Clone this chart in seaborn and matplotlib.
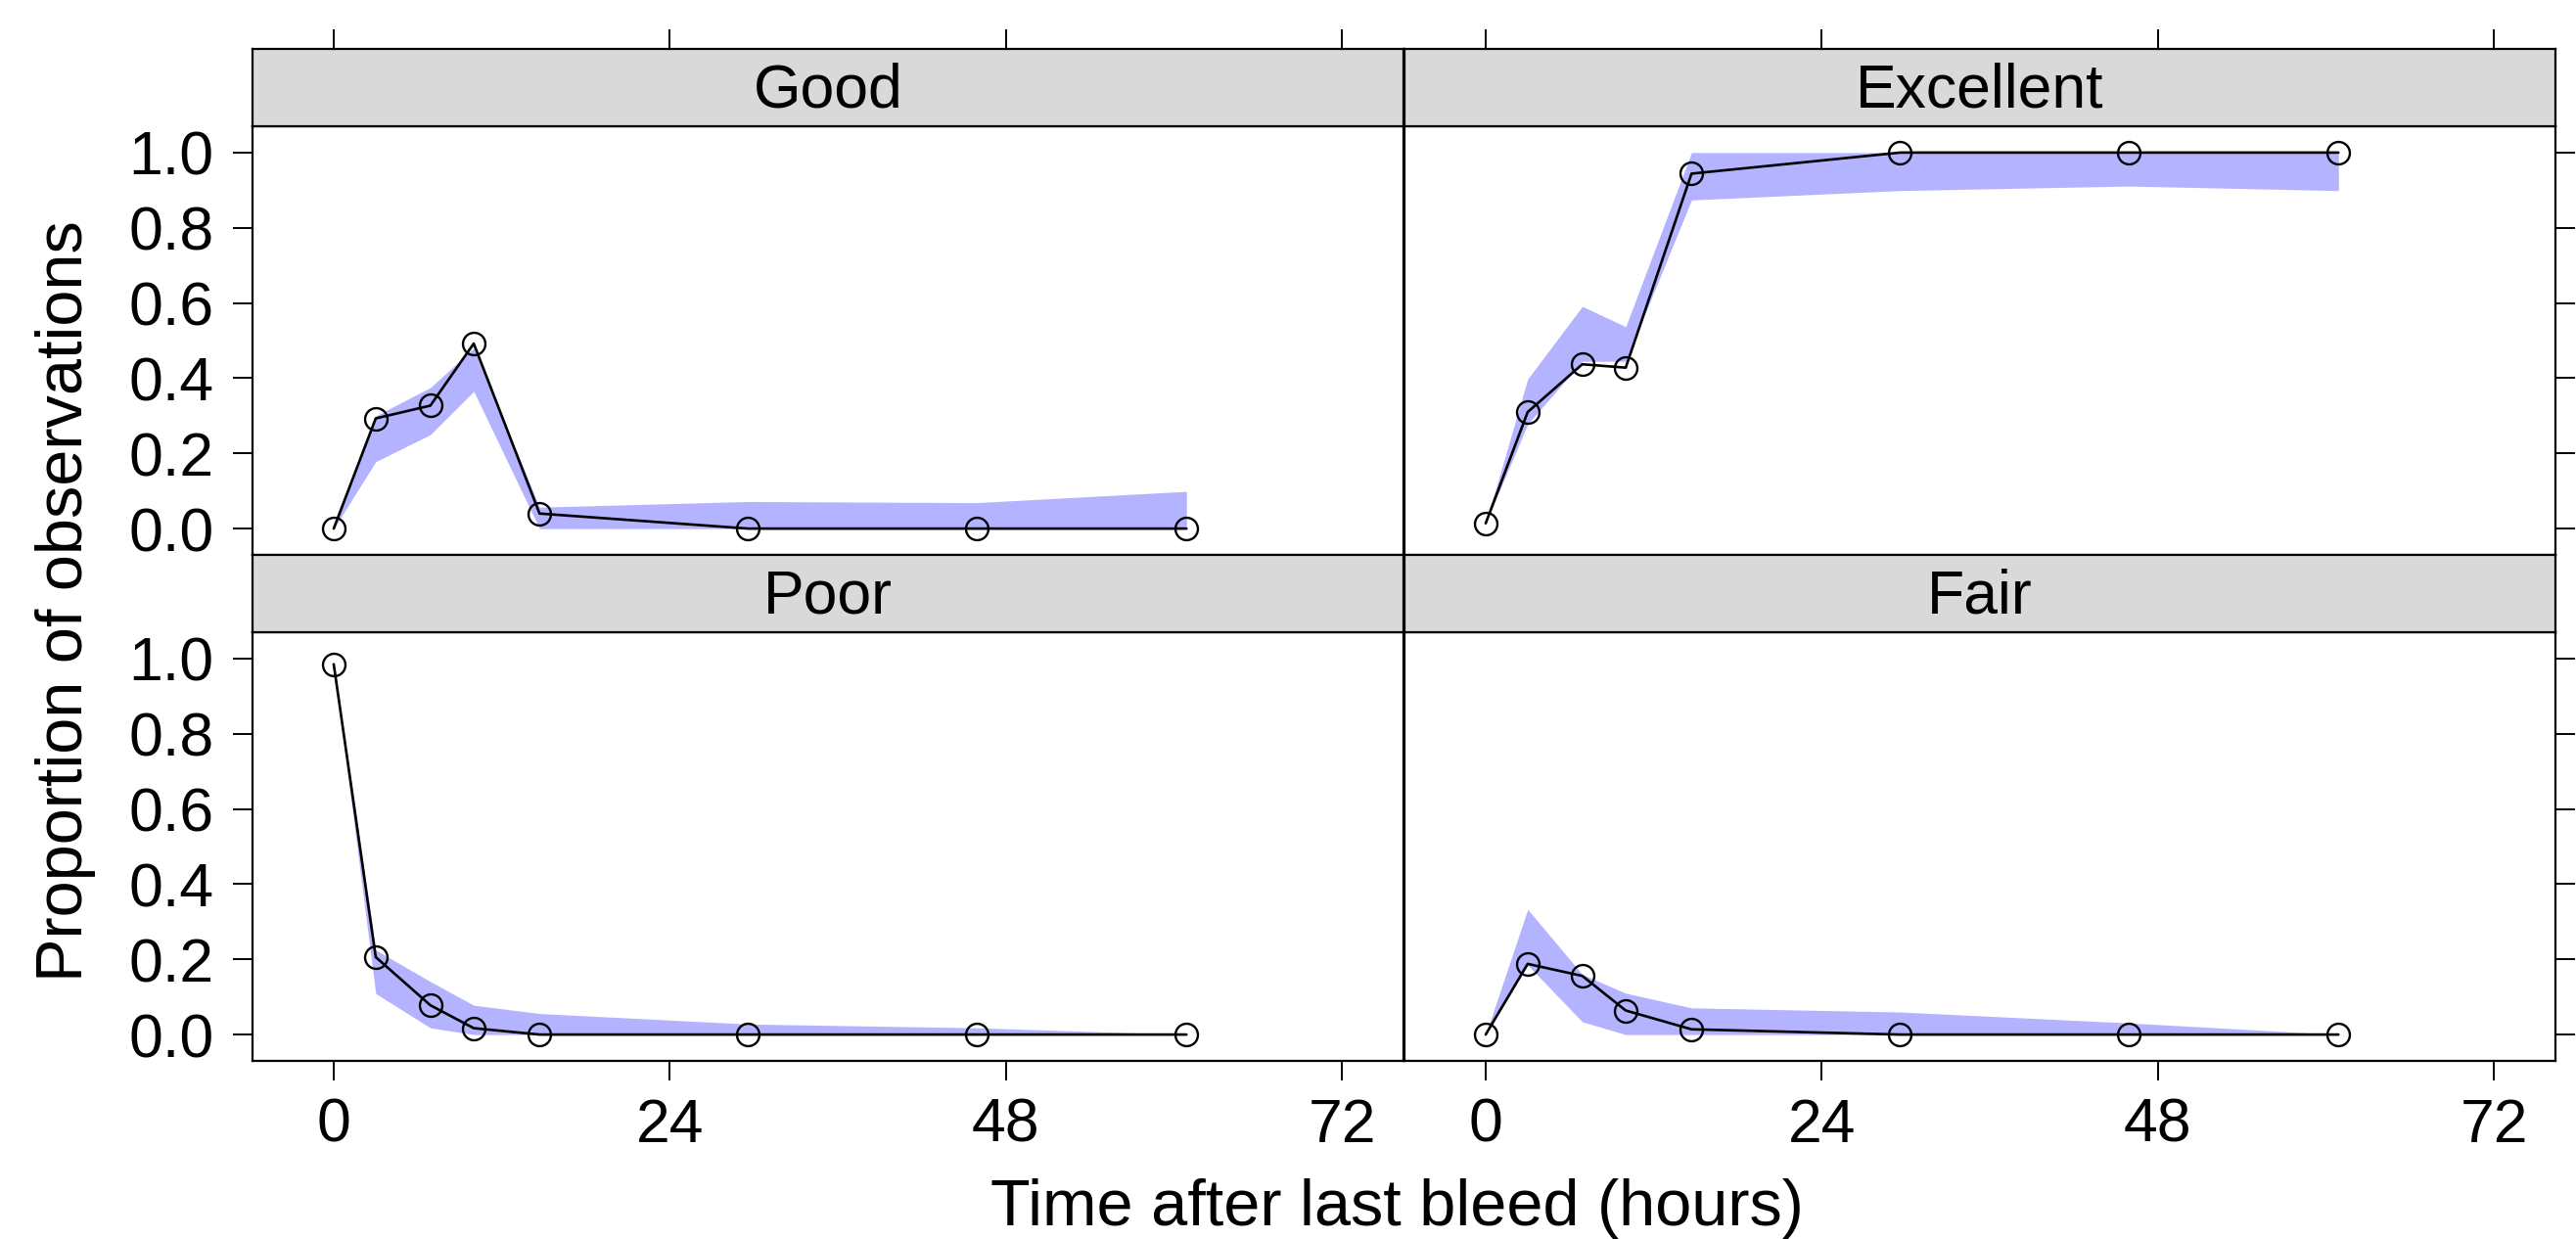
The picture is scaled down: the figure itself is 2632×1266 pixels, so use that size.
import pandas as pd
import numpy as np
import seaborn as sns
import matplotlib.pyplot as plt

# hours after last bleed (same for every panel)
hours = [0, 3, 6.9, 10, 14.7, 29.6, 45.9, 60.9]
panels = ['Good', 'Excellent', 'Poor', 'Fair']

good_obs = [0.0, 0.293, 0.327, 0.492, 0.040, 0.0, 0.0, 0.0]
good_lo = [0.0, 0.178, 0.25, 0.365, 0.0, 0.0, 0.0, 0.0]
good_hi = [0.0, 0.30, 0.375, 0.48, 0.057, 0.072, 0.069, 0.099]

exc_obs = [0.014, 0.310, 0.437, 0.428, 0.944, 1.0, 1.0, 1.0]
exc_lo = [0.014, 0.278, 0.445, 0.445, 0.874, 0.899, 0.911, 0.899]
exc_hi = [0.014, 0.398, 0.591, 0.537, 1.0, 1.0, 1.0, 1.0]

poor_obs = [0.985, 0.206, 0.078, 0.017, 0.0, 0.0, 0.0, 0.0]
poor_lo = [0.985, 0.109, 0.018, 0.0, 0.0, 0.0, 0.0, 0.0]
poor_hi = [0.985, 0.225, 0.141, 0.078, 0.056, 0.028, 0.018, 0.0]

fair_obs = [0.0, 0.188, 0.156, 0.064, 0.014, 0.0, 0.0, 0.0]
fair_lo = [0.0, 0.185, 0.034, 0.0, 0.0, 0.0, 0.0, 0.0]
fair_hi = [0.0, 0.333, 0.16, 0.110, 0.071, 0.060, 0.031, 0.0]

x_ticks = [0, 24, 48, 72]
y_ticks = [0.0, 0.2, 0.4, 0.6, 0.8, 1.0]

obs = [good_obs, exc_obs, poor_obs, fair_obs]
lo = [good_lo, exc_lo, poor_lo, fair_lo]
hi = [good_hi, exc_hi, poor_hi, fair_hi]

rows = []
for p, o, l, h in zip(panels, obs, lo, hi):
    for t, a, b, c in zip(hours, o, l, h):
        rows.append({'rating': p, 'hours': t, 'prop': a, 'lower': b, 'upper': c})
df = pd.DataFrame(rows)

sns.set_style('white')
plt.rcParams['font.family'] = ['Liberation Sans', 'DejaVu Sans']
plt.rcParams['text.color'] = 'black'
plt.rcParams['xtick.color'] = 'black'
plt.rcParams['ytick.color'] = 'black'
plt.rcParams['axes.labelcolor'] = 'black'

BAND = '#B3B3FF'
STRIP = '#D9D9D9'
LW = 1.6


def draw(data, **kw):
    ax = plt.gca()
    ax.fill_between(data['hours'], data['lower'], data['upper'], color=BAND, lw=0)
    sns.lineplot(data=data, x='hours', y='prop', color='black', lw=1.9, marker='o',
                 markersize=16.5, markerfacecolor='none', markeredgecolor='black',
                 markeredgewidth=1.7, errorbar=None, ax=ax)


g = sns.FacetGrid(df, col='rating', col_wrap=2, col_order=panels, despine=False,
                  sharex=True, sharey=True, height=4, aspect=2)
g.map_dataframe(draw)
g.set_titles('')
g.set_axis_labels('', '')
fig = g.figure
fig.set_size_inches(26.32, 12.66)

W, H = 2632, 1266
col_x = [258, 1435]
col_w = 1176
strip_top = [50, 567]
strip_h = 79
data_h = 438

for i, ax in enumerate(g.axes.flat):
    r, c = divmod(i, 2)
    x0 = col_x[c]
    top = strip_top[r] + strip_h
    ax.set_position([x0 / W, 1 - (top + data_h) / H, col_w / W, data_h / H])
    ax.set_xlim(-5.8, 76.4)
    ax.set_ylim(-0.07, 1.07)
    ax.set_xticks(x_ticks)
    ax.set_yticks(y_ticks)
    ax.set_yticklabels([f'{v:.1f}' for v in y_ticks])
    for s in ax.spines.values():
        s.set_linewidth(LW)
        s.set_color('black')
    ax.tick_params(length=14.4, width=1.4, direction='out', labelsize=45, color='black',
                   labelcolor='black',
                   bottom=(r == 1), labelbottom=(r == 1), top=False, labeltop=False,
                   left=(c == 0), labelleft=(c == 0), right=(c == 1), labelright=False)
    ax.tick_params(axis='x', pad=12)
    ax.tick_params(axis='y', pad=14)

    # lattice-style strip
    sax = fig.add_axes([x0 / W, 1 - top / H, col_w / W, strip_h / H])
    sax.set_facecolor(STRIP)
    sax.set_xlim(-5.8, 76.4)
    sax.set_yticks([])
    sax.set_xticks(x_ticks)
    sax.tick_params(axis='x', length=14.4, width=1.4, direction='out', color='black',
                    bottom=False, labelbottom=False, top=(r == 0), labeltop=False)
    for s in sax.spines.values():
        s.set_linewidth(LW)
        s.set_color('black')
    sax.text(0.5, 0.45, panels[i], transform=sax.transAxes, ha='center', va='center',
             fontsize=45, color='black')

fig.text(67 / W, 1 - 614 / H, 'Proportion of observations', rotation=90,
         ha='center', va='center', fontsize=48, color='black')
fig.text(1427 / W, 1 - 1252 / H, 'Time after last bleed (hours)', ha='center',
         va='baseline', fontsize=48, color='black')

fig.savefig('out.png', dpi=100)
